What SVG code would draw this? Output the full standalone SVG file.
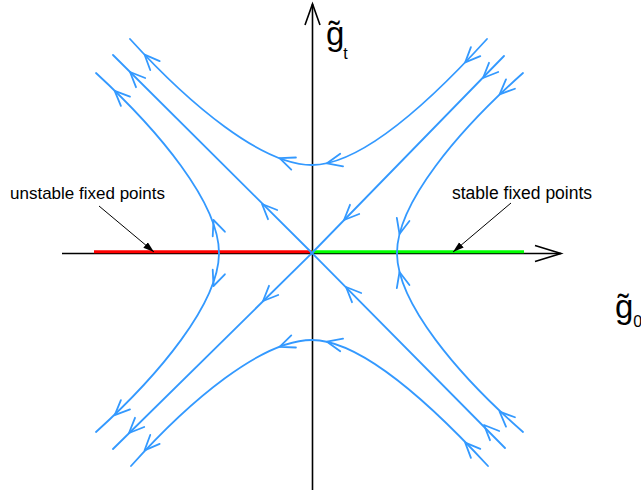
<svg xmlns="http://www.w3.org/2000/svg" xmlns:xlink="http://www.w3.org/1999/xlink" width="641" height="493" viewBox="0 0 641 493">
<style>
.traj{fill:none;stroke:#3399ff;stroke-width:1.8;stroke-linecap:round;stroke-linejoin:round}
.axis{fill:none;stroke:#000;stroke-width:1.6}
.lbl{font-family:"Liberation Sans",Arial,sans-serif;fill:#000}
.ptr{fill:none;stroke:#000;stroke-width:1}
</style>
<defs>
<path id="chev" d="M-15,-6.5 L0,0 L-15,6.5" class="traj"/>
<marker id="ptrhead" markerUnits="userSpaceOnUse" markerWidth="12" markerHeight="8" refX="11" refY="3.5" orient="auto">
<path d="M0,0 L11,3.5 L0,7 z" fill="#000"/>
</marker>
</defs>
<rect width="641" height="493" fill="#fff"/>
<g id="axes">
<path class="axis" d="M312.5,490 L312.5,4"/>
<path class="axis" d="M305,25 L312.5,4 L320,25"/>
<path class="axis" d="M62,253.5 L561,253.5"/>
<path class="axis" d="M535,245.5 L561,253.5 L535,261.5"/>
</g>
<g id="fixed-lines">
<path d="M94,251.8 L312,251.8" stroke="#ff0000" stroke-width="3" fill="none"/>
<path d="M312,251.8 L524,251.8" stroke="#00ff00" stroke-width="3" fill="none"/>
</g>
<g id="trajectories">
<path class="traj" d="M312,165 C262,165 190,105 130,39"/>
<path class="traj" d="M312,165 C360,165 427,105 487,39"/>
<path class="traj" d="M312,340 C262,340 190,400 131,466"/>
<path class="traj" d="M312,340 C360,340 427,400 488,466"/>
<path class="traj" d="M219,253 C219,203 159,131 96,73"/>
<path class="traj" d="M219,253 C219,303 159,375 96,432"/>
<path class="traj" d="M397,253 C397,203 458,131 523,73"/>
<path class="traj" d="M397,253 C397,303 458,375 523,432"/>
<path class="traj" d="M113,55 L312,253 L505,448"/>
<path class="traj" d="M504,56 L312,253 L113,449"/>
</g>
<g id="flow-arrows">
<use xlink:href="#chev" transform="translate(144.6,54.7) rotate(-133.6)"/>
<use xlink:href="#chev" transform="translate(279.6,158.2) rotate(-159)"/>
<use xlink:href="#chev" transform="translate(327,163.3) rotate(167.4)"/>
<use xlink:href="#chev" transform="translate(465.2,62.4) rotate(133.9)"/>
<use xlink:href="#chev" transform="translate(144.6,450.3) rotate(133.6)"/>
<use xlink:href="#chev" transform="translate(279.6,346.8) rotate(159)"/>
<use xlink:href="#chev" transform="translate(327,341.7) rotate(-167.4)"/>
<use xlink:href="#chev" transform="translate(465.2,442.6) rotate(-133.9)"/>
<use xlink:href="#chev" transform="translate(213.5,220) rotate(-110.7)"/>
<use xlink:href="#chev" transform="translate(114.7,90.8) rotate(-135.7)"/>
<use xlink:href="#chev" transform="translate(213.5,286) rotate(110.7)"/>
<use xlink:href="#chev" transform="translate(114.7,415.2) rotate(135.7)"/>
<use xlink:href="#chev" transform="translate(399.5,234) rotate(104)"/>
<use xlink:href="#chev" transform="translate(499.6,94.4) rotate(136.4)"/>
<use xlink:href="#chev" transform="translate(399.5,272) rotate(-104)"/>
<use xlink:href="#chev" transform="translate(499.6,411.6) rotate(-136.4)"/>
<use xlink:href="#chev" transform="translate(130,72) rotate(-135)"/>
<use xlink:href="#chev" transform="translate(262,204) rotate(-135)"/>
<use xlink:href="#chev" transform="translate(346,287) rotate(-135)"/>
<use xlink:href="#chev" transform="translate(484,425) rotate(-135)"/>
<use xlink:href="#chev" transform="translate(483,78) rotate(135)"/>
<use xlink:href="#chev" transform="translate(344,220) rotate(135)"/>
<use xlink:href="#chev" transform="translate(263,301) rotate(135)"/>
<use xlink:href="#chev" transform="translate(129,433) rotate(135)"/>
</g>
<g id="label-unstable">
<text class="lbl" x="10" y="198.5" font-size="17">unstable fixed points</text>
<path class="ptr" d="M99,206 L154,252" marker-end="url(#ptrhead)"/>
</g>
<g id="label-stable">
<text class="lbl" x="452" y="198.5" font-size="17.5">stable fixed points</text>
<path class="ptr" d="M511,203 L453,252" marker-end="url(#ptrhead)"/>
</g>
<g id="label-gt">
<text class="lbl" x="326" y="44.5" font-size="33">g&#x303;<tspan font-size="16" dx="-1" dy="14.5">t</tspan></text>
</g>
<g id="label-g0">
<text class="lbl" x="615" y="317.5" font-size="33">g&#x303;<tspan font-size="16" dy="9">0</tspan></text>
</g>
</svg>
